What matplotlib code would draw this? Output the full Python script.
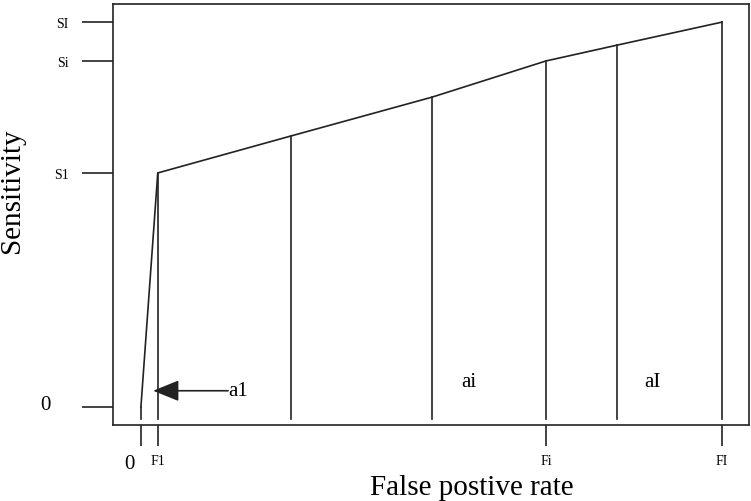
import matplotlib
matplotlib.use('Agg')
import matplotlib.pyplot as plt
import matplotlib.transforms as mtransforms

# ROC polyline: false positive rate vs sensitivity
fpr = [0.0, 0.029, 0.258, 0.501, 0.697, 0.819, 1.0]
sens = [0.0, 0.608, 0.704, 0.805, 0.899, 0.940, 1.0]

xtick_pos = [0.0, 0.029, 0.697, 1.0]
xtick_lab = ['0', 'F1', 'Fi', 'FI']
ytick_pos = [0.0, 0.608, 0.899, 1.0]
ytick_lab = ['0', 'S1', 'Si', 'SI']

area_lab = ['a1', 'ai', 'aI']
area_x = [0.150, 0.565, 0.881]
area_y = [0.042, 0.065, 0.065]

base = -0.031
col = '#222222'
serif = ['Liberation Serif', 'DejaVu Serif']

fig = plt.figure(figsize=(7.51, 5.02), dpi=100)
ax = fig.add_axes([0.1505, 0.1514, 0.8465, 0.8386])

ax.plot(fpr, sens, color=col, lw=1.2)
for xv, yv in zip(fpr, sens):
    ax.plot([xv, xv], [base, yv], color=col, lw=1.2)

ax.set_xlim(-0.048, 1.046)
ax.set_ylim(-0.047, 1.047)

for s in ax.spines.values():
    s.set_color(col)
    s.set_linewidth(1.2)

ax.set_xticks(xtick_pos)
ax.set_xticklabels(xtick_lab, family=serif)
ax.set_yticks(ytick_pos)
ax.set_yticklabels(ytick_lab, family=serif)
ax.tick_params(axis='both', length=15, width=1.2, color=col, labelsize=10, pad=6)
ax.tick_params(axis='y', length=22, pad=10)

# the zero labels are bigger and sit a bit further out
for lab in ax.get_xticklabels():
    if lab.get_text() == '0':
        lab.set_fontsize(15)
        lab.set_transform(lab.get_transform() + mtransforms.ScaledTranslation(
            -11 / 100, 0, fig.dpi_scale_trans))
for lab in ax.get_yticklabels():
    if lab.get_text() == '0':
        lab.set_fontsize(15)
        lab.set_transform(lab.get_transform() + mtransforms.ScaledTranslation(
            -18 / 100, 5 / 100, fig.dpi_scale_trans))

ax.set_xlabel('False postive rate', family=serif, fontsize=21)
ax.set_ylabel('Sensitivity', family=serif, fontsize=21)
ax.xaxis.set_label_coords(0.565, -0.116)
ax.yaxis.set_label_coords(-0.138, 0.558)

# area labels
ax.text(area_x[0], area_y[0], area_lab[0], family=serif, fontsize=15,
        ha='left', va='center')
ax.annotate('', xy=(0.021, area_y[0]), xytext=(area_x[0], area_y[0]),
            arrowprops=dict(arrowstyle='-|>,head_length=1.6,head_width=0.65',
                            color=col, lw=1.2, shrinkA=0, shrinkB=0))
ax.text(area_x[1], area_y[1], area_lab[1], family=serif, fontsize=15,
        ha='center', va='center')
ax.text(area_x[2], area_y[2], area_lab[2], family=serif, fontsize=15,
        ha='center', va='center')

plt.savefig('out.png', dpi=100)
